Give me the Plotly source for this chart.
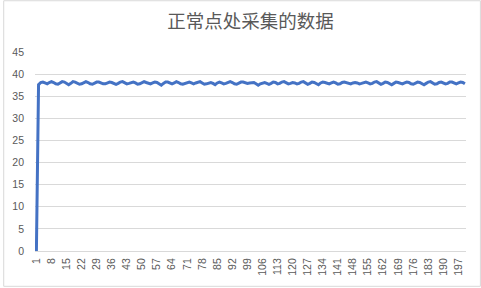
import plotly.graph_objects as go

title_text = "正常点处采集的数据"
y_values = [
    0, 37.6, 38.1, 38.2, 38.0, 37.8, 38.1, 38.3, 38.1, 37.8,
    37.7, 38.0, 38.3, 38.2, 37.9, 37.6, 37.9, 38.3, 38.2, 37.9,
    37.7, 37.8, 38.1, 38.3, 38.1, 37.8, 37.7, 37.9, 38.2, 38.2,
    38.0, 37.8, 37.8, 38.0, 38.2, 38.1, 37.9, 37.7, 37.9, 38.2,
    38.3, 38.0, 37.8, 37.9, 38.1, 38.2, 38.0, 37.7, 37.8, 38.1,
    38.3, 38.1, 37.9, 37.8, 38.0, 38.2, 38.1, 37.8, 37.5, 37.9,
    38.2, 38.2, 38.0, 37.8, 38.0, 38.3, 38.1, 37.8, 37.7, 37.9,
    38.1, 38.2, 38.0, 37.8, 38.0, 38.2, 38.3, 38.0, 37.7, 37.8,
    38.0, 38.1, 37.9, 37.6, 38.0, 38.2, 38.0, 37.8, 37.9, 38.1,
    38.3, 38.1, 37.8, 37.7, 38.0, 38.2, 38.2, 38.0, 37.9, 38.0,
    38.1, 38.1, 37.8, 37.5, 37.8, 38.0, 38.1, 37.9, 37.7, 37.9,
    38.2, 38.1, 37.8, 37.9, 38.2, 38.3, 38.0, 37.8, 37.9, 38.1,
    38.0, 37.8, 37.9, 38.2, 38.3, 38.0, 37.7, 37.9, 38.2, 38.1,
    37.8, 37.6, 38.0, 38.2, 38.1, 37.9, 37.8, 38.0, 38.2, 38.0,
    37.7, 37.8, 38.1, 38.2, 38.1, 37.9, 37.8, 38.0, 38.1, 38.0,
    37.8, 37.9, 38.1, 38.2, 38.0, 37.8, 37.9, 38.2, 38.3, 38.0,
    37.7, 37.9, 38.2, 38.1, 37.8, 37.6, 37.9, 38.2, 38.1, 37.9,
    37.8, 38.0, 38.2, 38.1, 37.8, 37.7, 38.0, 38.2, 38.1, 37.9,
    37.6, 37.9, 38.2, 38.3, 38.0, 37.7, 37.8, 38.1, 38.2, 38.0,
    37.8, 37.9, 38.2, 38.2, 38.0, 37.8, 38.0, 38.2, 38.1, 37.8,
]
x_values = list(range(1, len(y_values) + 1))
x_tick_vals = list(range(1, len(y_values) + 1, 7))
x_tick_text = [str(v) for v in x_tick_vals]
y_tick_vals = [0, 5, 10, 15, 20, 25, 30, 35, 40, 45]

W, H = 481, 288
ml, mr, mt, mb = 32, 15, 52, 36
pw, ph = W - ml - mr, H - mt - mb

fig = go.Figure()
fig.add_trace(go.Scatter(
    x=x_values, y=y_values, mode="lines",
    line=dict(color="#4472C4", width=3),
    hoverinfo="skip", showlegend=False,
))

# chart-area border
x0 = (0.5 - ml) / pw
x1 = (W - 0.5 - ml) / pw
y0 = (mb - (H - 0.5)) / ph * -1
fig.add_shape(type="rect", xref="paper", yref="paper",
              x0=x0, x1=x1,
              y0=-(mb - 0.5) / ph, y1=(ph + mt - 0.5) / ph,
              line=dict(color="#D9D9D9", width=1), fillcolor="rgba(0,0,0,0)")

fig.update_layout(
    width=W, height=H,
    margin=dict(l=ml, r=mr, t=mt, b=mb),
    paper_bgcolor="white", plot_bgcolor="white",
    title=dict(text=title_text, x=0.5, xref="paper", xanchor="center",
               y=1 - 22 / H, yref="container", yanchor="middle",
               font=dict(family="Noto Sans CJK SC", size=18.5, color="#595959")),
    xaxis=dict(
        range=[0.35, 200.5], tickmode="array", tickvals=x_tick_vals, ticktext=x_tick_text,
        tickangle=-90, showgrid=False, zeroline=False, showline=True,
        linecolor="#D9D9D9", linewidth=1, ticks="",
        tickfont=dict(family="Liberation Sans", size=10.5, color="#595959"),
        ticklabelstandoff=2,
    ),
    yaxis=dict(
        range=[0, 45], tickmode="array", tickvals=y_tick_vals,
        showgrid=True, gridcolor="#D9D9D9", gridwidth=1, zeroline=False,
        showline=False, ticks="",
        tickfont=dict(family="Liberation Sans", size=10.5, color="#595959"),
        ticklabelstandoff=10,
    ),
)

fig.write_html("out.html")
